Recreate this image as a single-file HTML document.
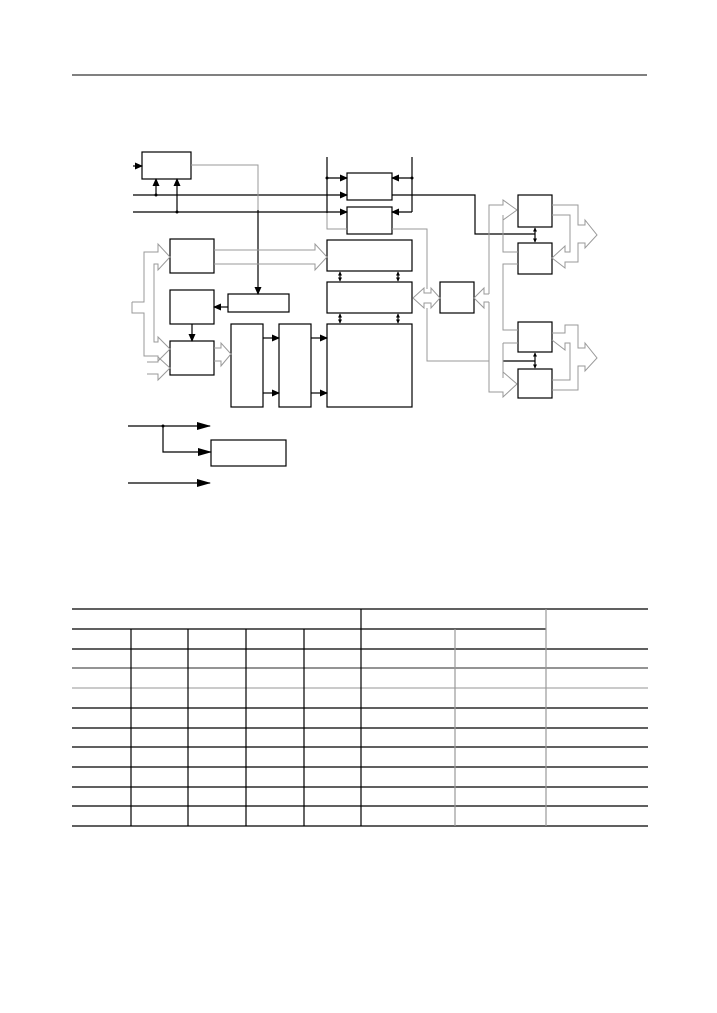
<!DOCTYPE html>
<html><head><meta charset="utf-8"><style>
html,body{margin:0;padding:0;background:#fff;}
svg{display:block;}
</style></head><body>
<svg width="717" height="1013" viewBox="0 0 717 1013" xmlns="http://www.w3.org/2000/svg">
<defs>
<marker id="a" markerWidth="8" markerHeight="8" refX="7" refY="4" orient="auto" markerUnits="userSpaceOnUse"><path d="M0,0.5 L8,4 L0,7.5z" fill="#000"/></marker>
<marker id="b" markerWidth="14" markerHeight="10" refX="13" refY="5" orient="auto" markerUnits="userSpaceOnUse"><path d="M0,1 L14,5 L0,9z" fill="#000"/></marker>
<marker id="s" markerWidth="4" markerHeight="4" refX="3.5" refY="2" orient="auto-start-reverse" markerUnits="userSpaceOnUse"><path d="M0,0 L4,2 L0,4z" fill="#000"/></marker>
</defs>
<line x1="72" y1="75" x2="647" y2="75" stroke="#000" stroke-width="1"/>
<g fill="none" stroke="#000" stroke-width="1.2">
<rect x="142" y="152" width="49" height="27"/>
<rect x="347" y="173" width="45" height="27"/>
<rect x="347" y="207" width="45" height="27"/>
<rect x="327" y="240" width="85" height="31"/>
<rect x="327" y="282" width="85" height="31"/>
<rect x="327" y="324" width="85" height="83"/>
<rect x="170" y="239" width="44" height="34"/>
<rect x="170" y="290" width="44" height="34"/>
<rect x="170" y="341" width="44" height="34"/>
<rect x="228" y="294" width="61" height="18"/>
<rect x="231" y="324" width="32" height="83"/>
<rect x="279" y="324" width="32" height="83"/>
<rect x="440" y="282" width="34" height="31"/>
<rect x="518" y="195" width="34" height="32"/>
<rect x="518" y="243" width="34" height="31"/>
<rect x="518" y="322" width="34" height="30"/>
<rect x="518" y="369" width="34" height="29"/>
<rect x="211" y="440" width="75" height="26"/>
<line x1="133" y1="166" x2="142" y2="166" marker-end="url(#a)"/>
<line x1="133" y1="195" x2="347" y2="195" marker-end="url(#a)"/>
<line x1="133" y1="212" x2="347" y2="212" marker-end="url(#a)"/>
<line x1="156" y1="195" x2="156" y2="179" marker-end="url(#a)"/>
<line x1="177" y1="212" x2="177" y2="179" marker-end="url(#a)"/>
<line x1="258" y1="210" x2="258" y2="294" marker-end="url(#a)"/>
<line x1="327" y1="157" x2="327" y2="213"/>
<line x1="327" y1="178" x2="347" y2="178" marker-end="url(#a)"/>
<line x1="412" y1="157" x2="412" y2="212"/>
<line x1="412" y1="178" x2="392" y2="178" marker-end="url(#a)"/>
<line x1="412" y1="212" x2="392" y2="212" marker-end="url(#a)"/>
<polyline points="392,195 475,195 475,234 503,234"/>
<line x1="228" y1="307" x2="214" y2="307" marker-end="url(#a)"/>
<line x1="192" y1="324" x2="192" y2="341" marker-end="url(#a)"/>
<line x1="263" y1="338" x2="279" y2="338" marker-end="url(#a)"/>
<line x1="263" y1="393" x2="279" y2="393" marker-end="url(#a)"/>
<line x1="311" y1="338" x2="327" y2="338" marker-end="url(#a)"/>
<line x1="311" y1="393" x2="327" y2="393" marker-end="url(#a)"/>
<line x1="340" y1="272" x2="340" y2="281" marker-start="url(#s)" marker-end="url(#s)"/>
<line x1="398" y1="272" x2="398" y2="281" marker-start="url(#s)" marker-end="url(#s)"/>
<line x1="340" y1="314" x2="340" y2="323" marker-start="url(#s)" marker-end="url(#s)"/>
<line x1="398" y1="314" x2="398" y2="323" marker-start="url(#s)" marker-end="url(#s)"/>
<line x1="535" y1="228" x2="535" y2="242" marker-start="url(#s)" marker-end="url(#s)"/>
<line x1="535" y1="353" x2="535" y2="368" marker-start="url(#s)" marker-end="url(#s)"/>
<line x1="503" y1="234" x2="535" y2="234"/><line x1="503" y1="361" x2="535" y2="361"/>
<line x1="128" y1="426" x2="210" y2="426" marker-end="url(#b)"/>
<polyline points="163,426 163,452 211,452" marker-end="url(#b)"/>
<line x1="128" y1="483" x2="210" y2="483" marker-end="url(#b)"/>
</g>
<g fill="#000"><circle cx="156" cy="195" r="1.5"/><circle cx="177" cy="212" r="1.5"/><circle cx="327" cy="178" r="1.5"/><circle cx="412" cy="178" r="1.5"/><circle cx="163" cy="426" r="1.5"/></g>
<g fill="none" stroke="#999" stroke-width="1">
<polyline points="191,165 258,165 258,210"/>
<polyline points="327,213 327,229 347,229"/>
<polyline points="392,229 427,229 427,289"/>
<polyline points="427,308 427,361 489,361"/>
<polyline points="214,250 315,250 315,244 327,257 315,270 315,264 214,264"/>
<polyline points="214,348 221,348 221,343 231,354 221,366 221,361 214,361"/>
<polyline points="413,298 424,288 424,293 431,293 431,288 440,298 431,308 431,303 424,303 424,308 413,298"/>
<polyline points="474,298 484,288 484,294 489,294"/><polyline points="489,302 484,302 484,308 474,298"/>
<polyline points="132,302 144,302 144,252 158,252 158,244 170,257 158,270 158,264 154,264 154,342 158,342 158,337 170,349 158,361 158,356 144,356 144,313 132,313 132,302"/>
<polyline points="147,362 158,362 158,357 170,368 158,380 158,374 147,374"/>
<polyline points="489,294 489,205 503,205 503,200 517,210 503,220 503,215 503,215"/>
<polyline points="489,302 489,392 503,392 503,397 517,384 503,372 503,378"/>
<polyline points="503,215 503,252 518,252"/>
<polyline points="518,264 503,264 503,330 518,330"/>
<polyline points="503,343 518,343"/><polyline points="503,343 503,378"/>
<polyline points="552,205 578,205 578,225 585,225 585,220 597,235 585,248 585,243 578,243 578,262 565,262 565,268 552,258 565,246 565,252 570,252 570,215 552,215"/>
<polyline points="552,333 565,333 565,325 578,325 578,348 585,348 585,343 597,358 585,371 585,366 578,366 578,390 552,390"/>
<polyline points="552,340 565,350 565,343 570,343 570,380 552,380"/>
</g>
<g stroke="#000" stroke-width="1.2">
<line x1="72" y1="609" x2="648" y2="609"/>
<line x1="72" y1="629" x2="546" y2="629"/>
<line x1="72" y1="649" x2="648" y2="649"/>
<line x1="72" y1="668" x2="648" y2="668" stroke="#555"/>
<line x1="72" y1="688" x2="648" y2="688" stroke="#aaa"/>
<line x1="72" y1="708" x2="648" y2="708"/>
<line x1="72" y1="728" x2="648" y2="728"/>
<line x1="72" y1="747" x2="648" y2="747"/>
<line x1="72" y1="767" x2="648" y2="767"/>
<line x1="72" y1="787" x2="648" y2="787"/>
<line x1="72" y1="806" x2="648" y2="806"/>
<line x1="72" y1="826" x2="648" y2="826"/>
<line x1="361" y1="609" x2="361" y2="826"/>
<line x1="131" y1="629" x2="131" y2="826"/>
<line x1="188" y1="629" x2="188" y2="826"/>
<line x1="246" y1="629" x2="246" y2="826"/>
<line x1="304" y1="629" x2="304" y2="826"/>
<line x1="455" y1="629" x2="455" y2="826" stroke="#999"/>
<line x1="546" y1="609" x2="546" y2="826" stroke="#999"/>
</g>
</svg>
</body></html>
